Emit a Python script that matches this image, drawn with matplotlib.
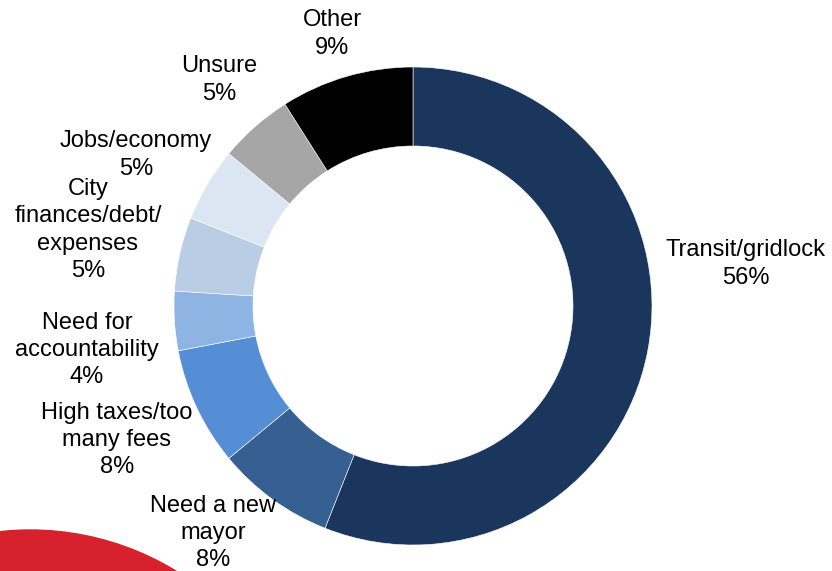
import matplotlib.pyplot as plt
from matplotlib.patches import Circle

# Survey answers, clockwise from the top
categories = ['Transit/gridlock', 'Need a new\nmayor', 'High taxes/too\nmany fees',
              'Need for\naccountability', 'City\nfinances/debt/\nexpenses',
              'Jobs/economy', 'Unsure', 'Other']
shares = [56, 8, 8, 4, 5, 5, 5, 9]
colors = ['#1B365D', '#366092', '#558ED5', '#8EB4E3', '#B9CDE5',
          '#DCE6F2', '#A6A6A6', '#000000']

# label centres in pixel coordinates (x, y from top)
label_pos = [(746, 264), (213, 533), (117, 440), (87, 350),
             (88, 230), (136, 155), (219, 80), (332, 34)]

W, H = 832, 571
fig = plt.figure(figsize=(W / 100, H / 100), dpi=100)
ax = fig.add_axes([0, 0, 1, 1])

plt.rcParams['font.family'] = ['Liberation Sans', 'DejaVu Sans']

# red decorative disc bottom-left
ax.add_patch(Circle((30, H - 810), 280, color='#D7222D', zorder=0))

cx, cy, r = 413, H - 306, 239
ax.pie(shares, colors=colors, startangle=90, counterclock=False,
       center=(cx, cy), radius=r, frame=True,
       wedgeprops=dict(width=r - 160, edgecolor='white', linewidth=0.4))
ax.set_xlim(0, W)
ax.set_ylim(0, H)
ax.set_aspect('equal')
ax.axis('off')

for cat, val, (x, y) in zip(categories, shares, label_pos):
    ax.text(x, H - y, f"{cat}\n{val}%", ha='center', va='center',
            fontsize=17, linespacing=1.3, color='black')

fig.savefig('out.png', dpi=100)
